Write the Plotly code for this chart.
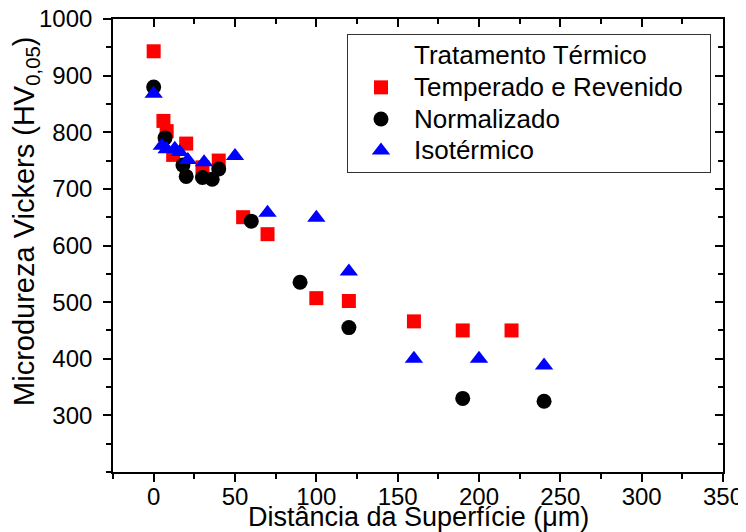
import plotly.graph_objects as go

# Data
tr_x = [0, 6, 8, 12, 20, 30, 40, 55, 70, 100, 120, 160, 190, 220]
tr_y = [943, 820, 802, 760, 780, 738, 750, 650, 620, 507, 502, 466, 450, 450]

norm_x = [0, 7, 18, 20, 30, 36, 40, 60, 90, 120, 190, 240]
norm_y = [880, 790, 742, 722, 720, 717, 735, 643, 535, 455, 330, 325]

iso_x = [0, 5, 8, 13, 16, 21, 31, 50, 70, 100, 120, 160, 200, 240]
iso_y = [868, 776, 770, 771, 765, 751, 747, 758, 658, 649, 554, 400, 400, 388]

x_ticks = [0, 50, 100, 150, 200, 250, 300, 350]
y_ticks = [300, 400, 500, 600, 700, 800, 900, 1000]
x_minor = [-25, 25, 75, 125, 175, 225, 275, 325]
y_minor = [250, 350, 450, 550, 650, 750, 850, 950]
x_range = [-25, 350]
y_range = [200, 1000]

legend_title = "Tratamento Térmico"
series_names = ["Temperado e Revenido", "Normalizado", "Isotérmico"]
x_title = "Distância da Superfície (μm)"
y_title = "Microdureza Vickers (HV<sub>0,05</sub>)"

FONT = "Arial, Liberation Sans, sans-serif"


def big(t, pad=0):
    return '<span style="font-size:26px">' + t + "\u00a0" * pad + "</span>"


fig = go.Figure()

fig.add_trace(go.Scatter(
    x=[None], y=[None], mode="markers", name=big(legend_title),
    marker=dict(color="rgba(0,0,0,0)", size=1), legendgroup="t", hoverinfo="skip"))
fig.add_trace(go.Scatter(
    x=tr_x, y=tr_y, mode="markers", name=big(series_names[0], 3),
    marker=dict(symbol="square", color="#ff0000", size=14), legendgroup="a"))
fig.add_trace(go.Scatter(
    x=norm_x, y=norm_y, mode="markers", name=big(series_names[1]),
    marker=dict(symbol="circle", color="#000000", size=15), legendgroup="b"))
fig.add_trace(go.Scatter(
    x=iso_x, y=iso_y, mode="markers", name=big(series_names[2]),
    marker=dict(symbol="triangle-up", color="#0000ff", size=16), legendgroup="c"))
# invisible trace to anchor the mirrored (top/right) axes
fig.add_trace(go.Scatter(x=[None], y=[None], xaxis="x2", yaxis="y2",
                         showlegend=False, hoverinfo="skip"))

axis_common = dict(showgrid=False, zeroline=False, showline=True,
                   linecolor="black", linewidth=1.6, tickcolor="black",
                   tickwidth=1.6, automargin=False)

fig.update_layout(
    width=738, height=524,
    margin=dict(l=105, r=23, t=11, b=60, autoexpand=False),
    paper_bgcolor="white", plot_bgcolor="white",
    font=dict(family=FONT, color="black"),
    showlegend=True,
    xaxis=dict(**axis_common, range=x_range, tickvals=x_ticks,
               ticks="outside", ticklen=8, ticklabelstandoff=-6,
               ticklabeloverflow="allow", tickfont=dict(size=24),
               minor=dict(tickvals=x_minor, ticks="outside", ticklen=5,
                          tickcolor="black", tickwidth=1.6)),
    yaxis=dict(**axis_common, range=y_range, tickvals=y_ticks,
               ticks="outside", ticklen=8, ticklabelstandoff=6,
               ticklabeloverflow="allow", tickfont=dict(size=24),
               minor=dict(tickvals=[200] + y_minor, ticks="outside", ticklen=5,
                          tickcolor="black", tickwidth=1.6)),
    xaxis2=dict(**axis_common, overlaying="x", side="top", range=x_range,
                tickvals=x_ticks, ticks="inside", ticklen=8, showticklabels=False,
                minor=dict(tickvals=x_minor, ticks="inside", ticklen=5,
                           tickcolor="black", tickwidth=1.6)),
    yaxis2=dict(**axis_common, overlaying="y", side="right", range=y_range,
                tickvals=[200] + y_ticks, ticks="inside", ticklen=8, showticklabels=False,
                minor=dict(tickvals=y_minor, ticks="inside", ticklen=5,
                           tickcolor="black", tickwidth=1.6)),
    legend=dict(x=0.3836, y=0.967, xanchor="left", yanchor="top",
                bgcolor="white", bordercolor="#333333", borderwidth=1,
                font=dict(size=22, family=FONT), tracegroupgap=0,
                itemsizing="trace", itemwidth=56),
    annotations=[
        dict(text=x_title, xref="paper", yref="paper", x=0.5, y=0,
             xanchor="center", yanchor="middle", yshift=-45, showarrow=False,
             font=dict(size=27)),
        dict(text=y_title, xref="paper", yref="paper", x=0, y=0.552,
             xanchor="center", yanchor="middle", xshift=-87, textangle=-90,
             showarrow=False, font=dict(size=29)),
    ],
)

fig.write_html("out.html")
